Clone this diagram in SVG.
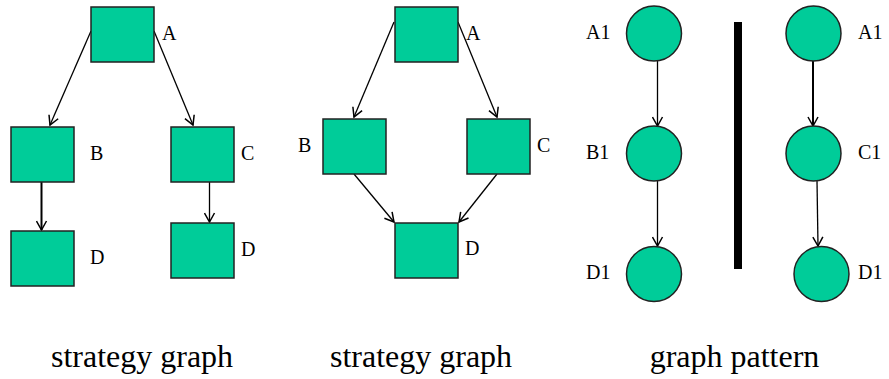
<svg xmlns="http://www.w3.org/2000/svg" width="889" height="379" viewBox="0 0 889 379">
<defs>
<marker id="ah" markerWidth="12" markerHeight="12" refX="10" refY="6" orient="auto" markerUnits="userSpaceOnUse">
<path d="M1,1 L10,6 L1,11" fill="none" stroke="#000" stroke-width="1.5"/>
</marker>
<style>
.n{fill:#00cc99;stroke:#222;stroke-width:1.5}
.e{stroke:#000;stroke-width:1.3;fill:none;marker-end:url(#ah)}
.eb{stroke:#000;stroke-width:2;fill:none;marker-end:url(#ah)}
</style>
</defs>
<rect width="889" height="379" fill="#fff"/>
<g id="connectors">
<line class="e" x1="91" y1="31" x2="50" y2="125"/>
<line class="e" x1="154" y1="31" x2="193" y2="125"/>
<line class="eb" x1="41.5" y1="182" x2="41.5" y2="230"/>
<line class="e" x1="209.5" y1="182" x2="209.5" y2="222"/>
<line class="e" x1="394" y1="22" x2="354" y2="117"/>
<line class="e" x1="458" y1="22" x2="497" y2="117"/>
<line class="e" x1="354" y1="174" x2="394" y2="222"/>
<line class="e" x1="497" y1="174" x2="459" y2="222"/>
<line class="e" x1="657.5" y1="61" x2="657.5" y2="126"/>
<line class="e" x1="657.5" y1="181" x2="657.5" y2="246"/>
<line class="eb" x1="813" y1="61" x2="813" y2="126"/>
<line class="e" x1="817" y1="181" x2="818" y2="246"/>
</g>
<g id="l-A"><rect class="n" x="91" y="7" width="63" height="55"/><text font-family="Liberation Serif" font-size="20" x="162" y="40">A</text></g>
<g id="l-B"><rect class="n" x="11" y="127" width="63" height="55"/><text font-family="Liberation Serif" font-size="20" x="90" y="160">B</text></g>
<g id="l-C"><rect class="n" x="171" y="127" width="63" height="55"/><text font-family="Liberation Serif" font-size="20" x="241" y="160">C</text></g>
<g id="l-D1"><rect class="n" x="11" y="231" width="63" height="55"/><text font-family="Liberation Serif" font-size="20" x="90" y="264">D</text></g>
<g id="l-D2"><rect class="n" x="171" y="223" width="63" height="55"/><text font-family="Liberation Serif" font-size="20" x="241" y="256">D</text></g>
<g id="m-A"><rect class="n" x="395" y="7" width="63" height="55"/><text font-family="Liberation Serif" font-size="20" x="466" y="40">A</text></g>
<g id="m-B"><rect class="n" x="323" y="119" width="63" height="55"/><text font-family="Liberation Serif" font-size="20" x="298" y="152">B</text></g>
<g id="m-C"><rect class="n" x="467" y="119" width="63" height="55"/><text font-family="Liberation Serif" font-size="20" x="537" y="152">C</text></g>
<g id="m-D"><rect class="n" x="395" y="223" width="63" height="55"/><text font-family="Liberation Serif" font-size="20" x="465" y="255">D</text></g>
<g id="p-A1"><circle class="n" cx="654" cy="33.5" r="27.5"/><text font-family="Liberation Serif" font-size="20" x="586" y="39">A1</text></g>
<g id="p-B1"><circle class="n" cx="654" cy="153.5" r="27.5"/><text font-family="Liberation Serif" font-size="20" x="586" y="159">B1</text></g>
<g id="p-D1"><circle class="n" cx="654" cy="274" r="27.5"/><text font-family="Liberation Serif" font-size="20" x="586" y="279">D1</text></g>
<g id="q-A1"><circle class="n" cx="813.5" cy="33.5" r="27.5"/><text font-family="Liberation Serif" font-size="20" x="858" y="39">A1</text></g>
<g id="q-C1"><circle class="n" cx="813.5" cy="153.5" r="27.5"/><text font-family="Liberation Serif" font-size="20" x="858" y="159">C1</text></g>
<g id="q-D1"><circle class="n" cx="821.5" cy="274" r="27.5"/><text font-family="Liberation Serif" font-size="20" x="858" y="279">D1</text></g>
<rect id="divider" x="734" y="22" width="8" height="247" fill="#000"/>
<g id="captions" font-family="Liberation Serif" font-size="32" text-anchor="middle">
<text x="142" y="367">strategy graph</text>
<text x="421" y="367">strategy graph</text>
<text x="734.5" y="367">graph pattern</text>
</g>
</svg>
